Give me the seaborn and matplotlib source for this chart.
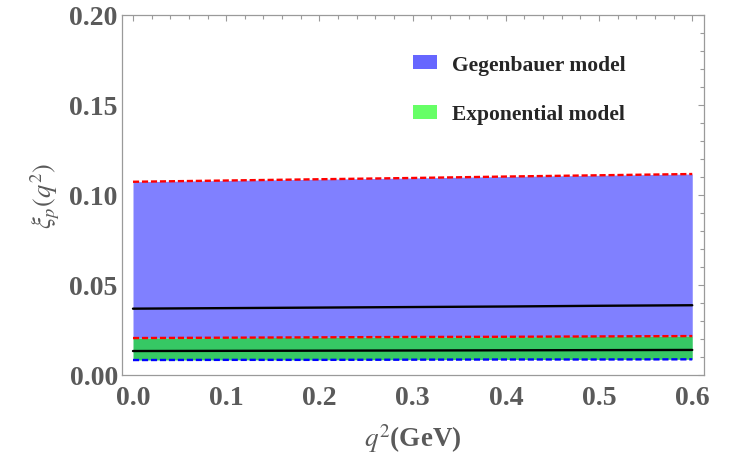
import matplotlib
matplotlib.use("Agg")
import matplotlib.pyplot as plt
import matplotlib.ticker as mticker
from matplotlib.patches import Patch
import pandas as pd
import seaborn as sns

# q^2 grid
q2 = [0.0, 0.1, 0.2, 0.3, 0.4, 0.5, 0.6]

# Gegenbauer model band
gegen_upper = [0.1072, 0.1079, 0.1086, 0.1093, 0.1101, 0.1108, 0.1115]
gegen_central = [0.0368, 0.0371, 0.0374, 0.0377, 0.0380, 0.0384, 0.0387]
gegen_lower = [0.0205, 0.0207, 0.0209, 0.0211, 0.0212, 0.0214, 0.0216]

# Exponential model band
expo_upper = gegen_lower
expo_central = [0.0133, 0.0134, 0.0135, 0.0136, 0.0137, 0.0138, 0.0139]
expo_lower = [0.0083, 0.0084, 0.0084, 0.0085, 0.0086, 0.0086, 0.0087]

legend_labels = ["Gegenbauer model", "Exponential model"]

sns.set_theme(style="white")
plt.rcParams["font.family"] = ["Liberation Serif", "DejaVu Serif"]
plt.rcParams["mathtext.fontset"] = "stix"

GREY = "#5a5a5a"
FRAME = "#9a9a9a"

df = pd.DataFrame({
    "q2": q2,
    "gegen_upper": gegen_upper,
    "gegen_central": gegen_central,
    "gegen_lower": gegen_lower,
    "expo_upper": expo_upper,
    "expo_central": expo_central,
    "expo_lower": expo_lower,
})

fig = plt.figure(figsize=(7.35, 4.56), dpi=100)
ax = fig.add_axes([122 / 735, 1 - 376 / 456, 582 / 735, 360.5 / 456])

ax.fill_between(df["q2"], df["gegen_lower"], df["gegen_upper"],
                color="#8080ff", linewidth=0)
ax.fill_between(df["q2"], df["expo_lower"], df["expo_upper"],
                color="#36c864", linewidth=0)

dash = (2.6, 1.2)
sns.lineplot(data=df, x="q2", y="gegen_upper", color="#ff0000", lw=1.7,
             ax=ax).lines[-1].set_dashes(dash)
sns.lineplot(data=df, x="q2", y="gegen_lower", color="#ff0000", lw=1.7,
             ax=ax).lines[-1].set_dashes(dash)
sns.lineplot(data=df, x="q2", y="expo_lower", color="#0000ff", lw=1.7,
             ax=ax).lines[-1].set_dashes(dash)
sns.lineplot(data=df, x="q2", y="gegen_central", color="black", lw=1.7, ax=ax)
sns.lineplot(data=df, x="q2", y="expo_central", color="black", lw=1.7, ax=ax)

ax.set_xlim(-0.0118, 0.6126)
ax.set_ylim(0, 0.20)
ax.xaxis.set_major_locator(mticker.MultipleLocator(0.1))
ax.xaxis.set_minor_locator(mticker.MultipleLocator(0.02))
ax.yaxis.set_major_locator(mticker.MultipleLocator(0.05))
ax.yaxis.set_minor_locator(mticker.MultipleLocator(0.01))
ax.xaxis.set_major_formatter(mticker.FormatStrFormatter("%.1f"))
ax.yaxis.set_major_formatter(mticker.FormatStrFormatter("%.2f"))

ax.tick_params(which="both", direction="in", top=True, right=True,
               color=FRAME, width=0.8)
ax.tick_params(which="major", length=4.5, labelsize=20, labelcolor=GREY)
ax.tick_params(which="minor", length=2.8)
ax.tick_params(axis="x", which="major", pad=7)
ax.tick_params(axis="y", which="major", pad=3)
for lab in ax.get_xticklabels() + ax.get_yticklabels():
    lab.set_fontweight("bold")

for spine in ax.spines.values():
    spine.set_color(FRAME)
    spine.set_linewidth(0.9)

ax.set_xlabel(r"$q^2$(GeV)", fontsize=19.5, fontweight="bold", color=GREY,
              labelpad=8)
ax.set_ylabel(r"$\xi_p(q^2)$", fontsize=19, color=GREY, labelpad=5)

handles = [Patch(facecolor="#6666ff", edgecolor="none"),
           Patch(facecolor="#66ff66", edgecolor="none")]
ax.legend(handles, legend_labels, loc="upper left", bbox_to_anchor=(0.5, 0.888),
          frameon=False, borderpad=0, borderaxespad=0, handlelength=1.1,
          handleheight=0.65, handletextpad=0.7, labelspacing=1.37,
          prop={"family": "Liberation Serif", "weight": "bold", "size": 15.5})

fig.savefig("out.png", dpi=100)
